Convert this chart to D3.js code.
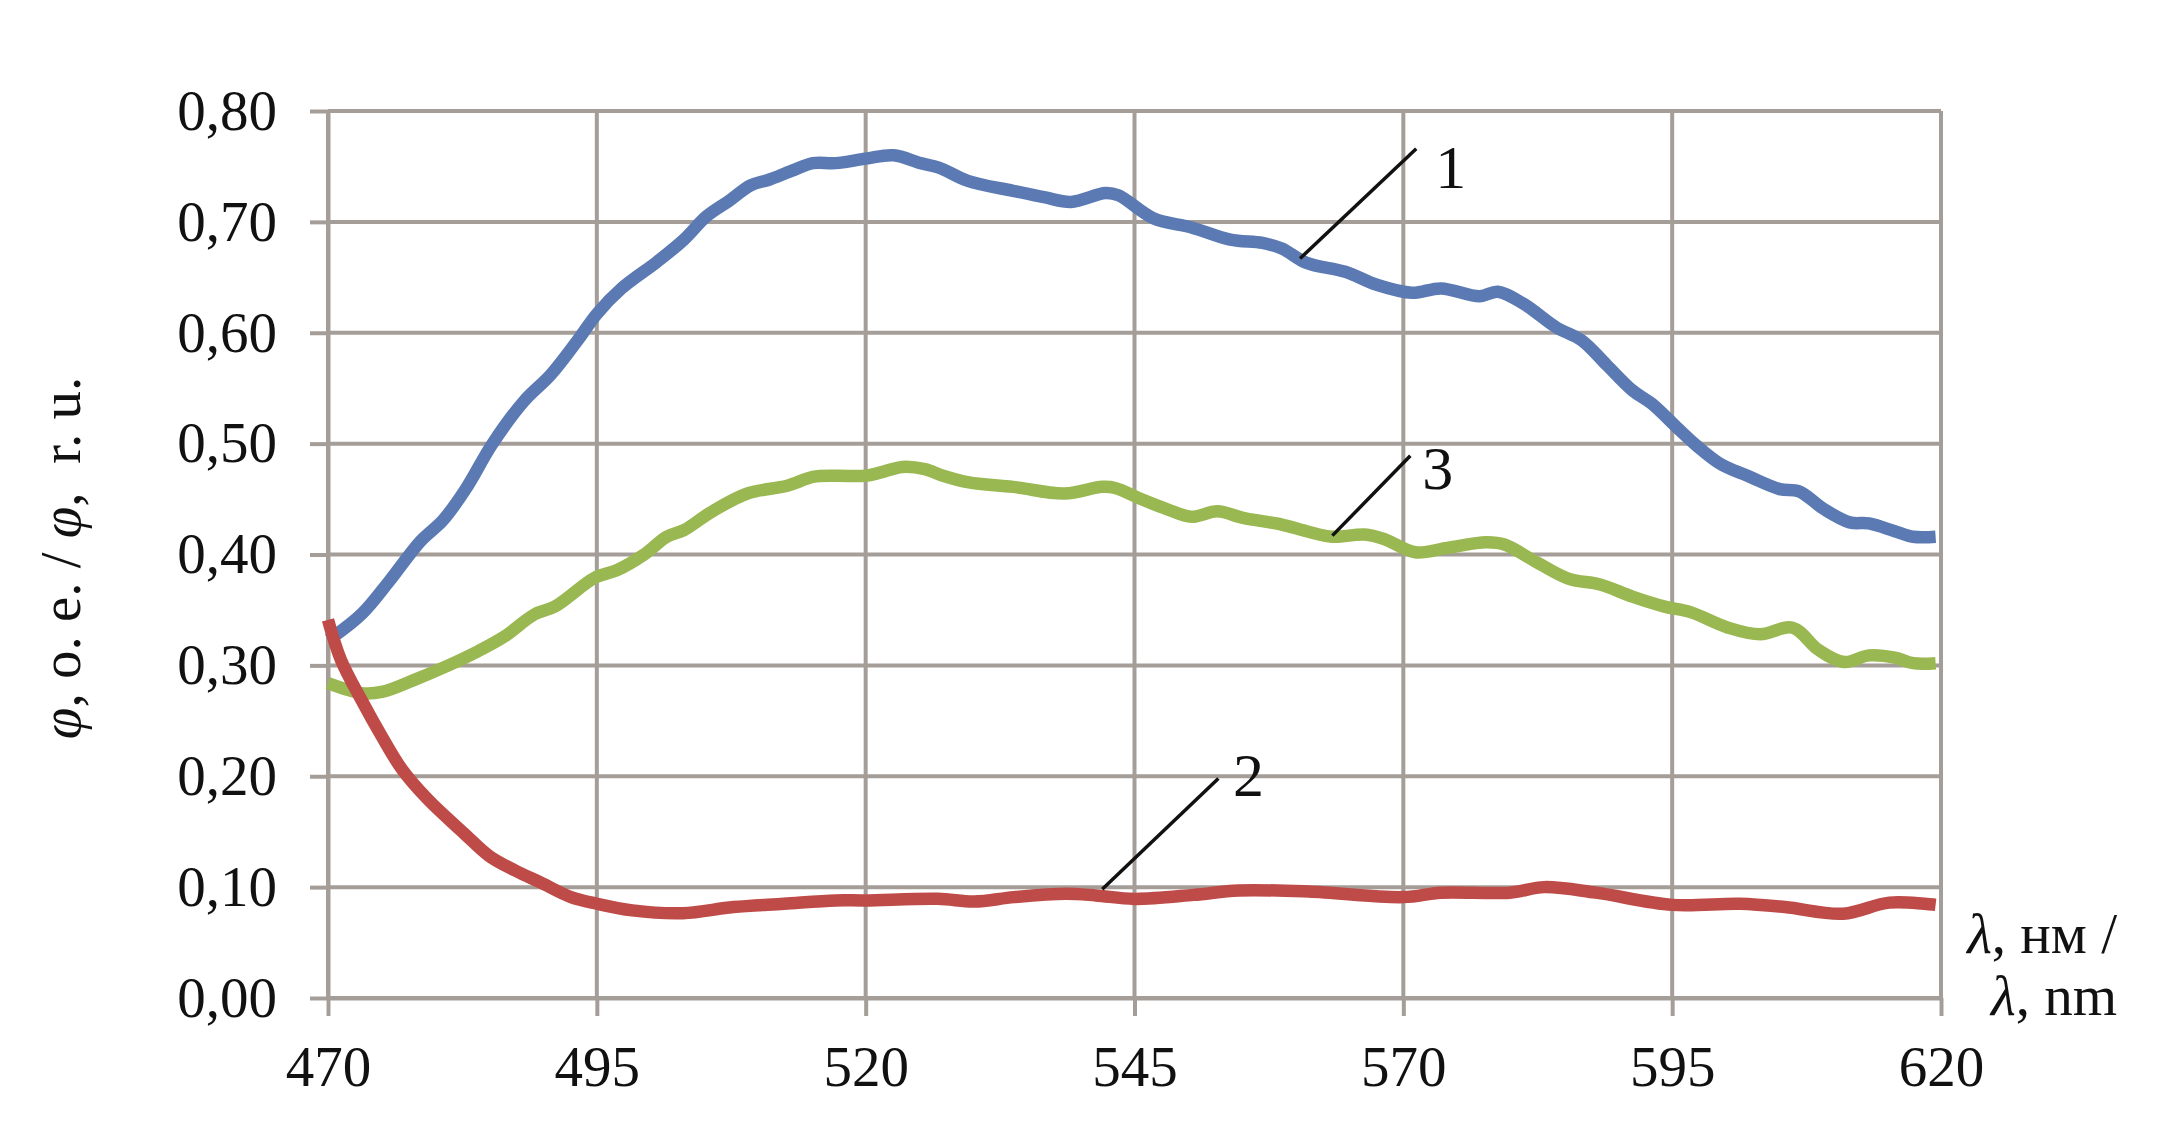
<!DOCTYPE html>
<html><head><meta charset="utf-8">
<script src="https://cdn.jsdelivr.net/npm/d3@7"></script>
<style>
html,body{margin:0;padding:0;background:#fff;}
svg{display:block;}
text{font-family:"Liberation Serif","Times New Roman",serif;fill:#111;}
</style></head>
<body><svg id="chart" width="2168" height="1131"></svg>
<script>
// ---- data ----
const xTicks = [470, 495, 520, 545, 570, 595, 620];
const yTicks = [0, 0.1, 0.2, 0.3, 0.4, 0.5, 0.6, 0.7, 0.8];

const wl1 = [470, 470.5, 473.2, 475.7, 478.6, 480.7, 482.8, 485.3, 488.2, 490.7, 493.2, 495, 497.3, 500.6, 503.1, 505.2, 507.3, 509.3, 511, 513.1, 515.1, 517.2, 520, 522.6, 525.1, 526.8, 529.5, 533.7, 536.7, 539.1, 542.3, 543.5, 546.8, 550.3, 553.9, 556.9, 558.7, 561, 564.6, 567.6, 570.8, 573.5, 577.1, 578.8, 581.2, 584.2, 586.6, 588.9, 591.3, 593.1, 595.5, 597.3, 599.6, 602, 605, 606.8, 609.1, 611.5, 613.3, 615.7, 617.4, 619.5];
const val1 = [0.323, 0.326, 0.347, 0.376, 0.412, 0.431, 0.459, 0.500, 0.538, 0.562, 0.593, 0.617, 0.640, 0.664, 0.684, 0.705, 0.719, 0.733, 0.738, 0.746, 0.753, 0.753, 0.757, 0.760, 0.753, 0.749, 0.737, 0.728, 0.722, 0.718, 0.726, 0.724, 0.703, 0.695, 0.684, 0.681, 0.676, 0.663, 0.655, 0.643, 0.636, 0.640, 0.633, 0.637, 0.626, 0.605, 0.593, 0.571, 0.548, 0.536, 0.514, 0.498, 0.481, 0.471, 0.459, 0.457, 0.441, 0.429, 0.428, 0.421, 0.416, 0.416];

const wl2 = [470, 471.2, 473.1, 475, 476.9, 479.3, 482.6, 485, 487.4, 489.8, 492.6, 495, 498.3, 503, 507.7, 512.4, 517.2, 520, 526.7, 530.1, 533.8, 538.6, 541.4, 545, 550.5, 554.7, 561.2, 570, 573.5, 579.9, 583.1, 587.9, 595, 601.3, 605.5, 610.9, 615.2, 619.5];
const val2 = [0.341, 0.305, 0.269, 0.236, 0.206, 0.179, 0.149, 0.128, 0.115, 0.104, 0.091, 0.085, 0.079, 0.0765, 0.082, 0.085, 0.088, 0.088, 0.0895, 0.087, 0.091, 0.094, 0.0925, 0.0894, 0.093, 0.097, 0.096, 0.091, 0.095, 0.095, 0.100, 0.095, 0.084, 0.085, 0.082, 0.076, 0.086, 0.084];

const wl3 = [470, 473.1, 475, 477.8, 481.2, 484, 486.4, 489.2, 491.1, 494.8, 496.9, 499.4, 501.5, 503.1, 505.6, 509, 512.7, 515.1, 517.2, 520, 521.4, 523.4, 525.5, 527.2, 529.6, 533.7, 538.5, 542, 543.2, 545.6, 548, 550.3, 552.7, 555.1, 558.7, 561, 563.4, 566.4, 568.2, 571.1, 574.1, 577.7, 579.4, 582.4, 585.4, 588.3, 591.3, 594.3, 596.7, 600.2, 603.2, 606.2, 608.6, 611, 613.3, 615.7, 617.4, 619.5];
const val3 = [0.284, 0.275, 0.276, 0.286, 0.300, 0.313, 0.326, 0.346, 0.353, 0.379, 0.386, 0.400, 0.416, 0.422, 0.438, 0.455, 0.462, 0.470, 0.471, 0.471, 0.474, 0.479, 0.477, 0.471, 0.465, 0.461, 0.455, 0.461, 0.460, 0.450, 0.441, 0.434, 0.439, 0.433, 0.427, 0.421, 0.416, 0.418, 0.414, 0.402, 0.406, 0.411, 0.409, 0.393, 0.378, 0.373, 0.362, 0.353, 0.348, 0.334, 0.328, 0.334, 0.314, 0.303, 0.309, 0.307, 0.302, 0.302];

const seriesColors = ["#5b7ab3", "#be4b47", "#9ab851"];

// callouts: label, text position (wl, value), leader line start and end
const calloutLabels = ["1", "2", "3"];
const calloutTextWl = [574.4, 555.6, 573.2];
const calloutTextVal = [0.731, 0.182, 0.459];
const leaderX1 = [571.2, 552.8, 570.65];
const leaderY1 = [0.766, 0.198, 0.489];
const leaderX2 = [560.4, 542.0, 563.4];
const leaderY2 = [0.667, 0.098, 0.417];

// ---- layout ----
const mLeft = 328, mRight = 1941, mTop = 111, mBottom = 998;
const gridColor = "#a59e98";
const svg = d3.select("#chart");
const x = d3.scaleLinear().domain([470, 620]).range([mLeft, mRight]);
const y = d3.scaleLinear().domain([0, 0.8]).range([mBottom, mTop]);
const fmt = v => d3.format(".2f")(v).replace(".", ",");

// grid
const g = svg.append("g");
g.selectAll("line.v").data(xTicks).join("line")
  .attr("x1", d => x(d)).attr("x2", d => x(d))
  .attr("y1", mTop).attr("y2", mBottom)
  .attr("stroke", gridColor).attr("stroke-width", 4);
g.selectAll("line.h").data(yTicks).join("line")
  .attr("x1", mLeft).attr("x2", mRight)
  .attr("y1", d => y(d)).attr("y2", d => y(d))
  .attr("stroke", gridColor).attr("stroke-width", 4);

// axes
const xAxis = svg.append("g").attr("transform", `translate(0,${mBottom})`)
  .call(d3.axisBottom(x).tickValues(xTicks).tickSizeInner(18).tickSizeOuter(0).tickPadding(30).tickFormat(d3.format("d")));
const yAxis = svg.append("g").attr("transform", `translate(${mLeft},0)`)
  .call(d3.axisLeft(y).tickValues(yTicks).tickSizeInner(18).tickSizeOuter(0).tickPadding(33).tickFormat(fmt));
[xAxis, yAxis].forEach(a => {
  a.select(".domain").attr("stroke", gridColor).attr("stroke-width", 4);
  a.selectAll(".tick line").attr("stroke", gridColor).attr("stroke-width", 4);
  a.selectAll(".tick text").attr("font-size", 57).attr("fill", "#111")
    .attr("font-family", "'Liberation Serif', serif");
});

// lines
const line = d3.line().x(d => x(d[0])).y(d => y(d[1])).curve(d3.curveCatmullRom.alpha(0.5));
const s1 = wl1.map((w, i) => [w, val1[i]]);
const s2 = wl2.map((w, i) => [w, val2[i]]);
const s3 = wl3.map((w, i) => [w, val3[i]]);
[[s1, 0], [s3, 2], [s2, 1]].forEach(([s, ci]) => {
  svg.append("path").datum(s).attr("d", line)
    .attr("fill", "none").attr("stroke", seriesColors[ci])
    .attr("stroke-width", 12.5).attr("stroke-linejoin", "round").attr("stroke-linecap", "butt");
});

// callouts
calloutLabels.forEach((lab, i) => {
  svg.append("line")
    .attr("x1", x(leaderX1[i])).attr("y1", y(leaderY1[i]))
    .attr("x2", x(leaderX2[i])).attr("y2", y(leaderY2[i]))
    .attr("stroke", "#111").attr("stroke-width", 3.5);
  svg.append("text").attr("x", x(calloutTextWl[i])).attr("y", y(calloutTextVal[i]))
    .attr("text-anchor", "middle").attr("font-size", 62).text(lab);
});

// axis titles
const yt = svg.append("text").attr("transform", "translate(80,558) rotate(-90)")
  .attr("text-anchor", "middle").attr("font-size", 57).attr("xml:space", "preserve");
yt.append("tspan").attr("font-style", "italic").text("φ");
yt.append("tspan").text(", о. е. / ");
yt.append("tspan").attr("font-style", "italic").text("φ");
yt.append("tspan").text(",  r. u.");

const xt1 = svg.append("text").attr("x", 2117).attr("y", 953).attr("text-anchor", "end").attr("font-size", 57);
xt1.append("tspan").attr("font-style", "italic").text("λ");
xt1.append("tspan").text(", нм /");
const xt2 = svg.append("text").attr("x", 2117).attr("y", 1015).attr("text-anchor", "end").attr("font-size", 57);
xt2.append("tspan").attr("font-style", "italic").text("λ");
xt2.append("tspan").text(", nm");
</script></body></html>
